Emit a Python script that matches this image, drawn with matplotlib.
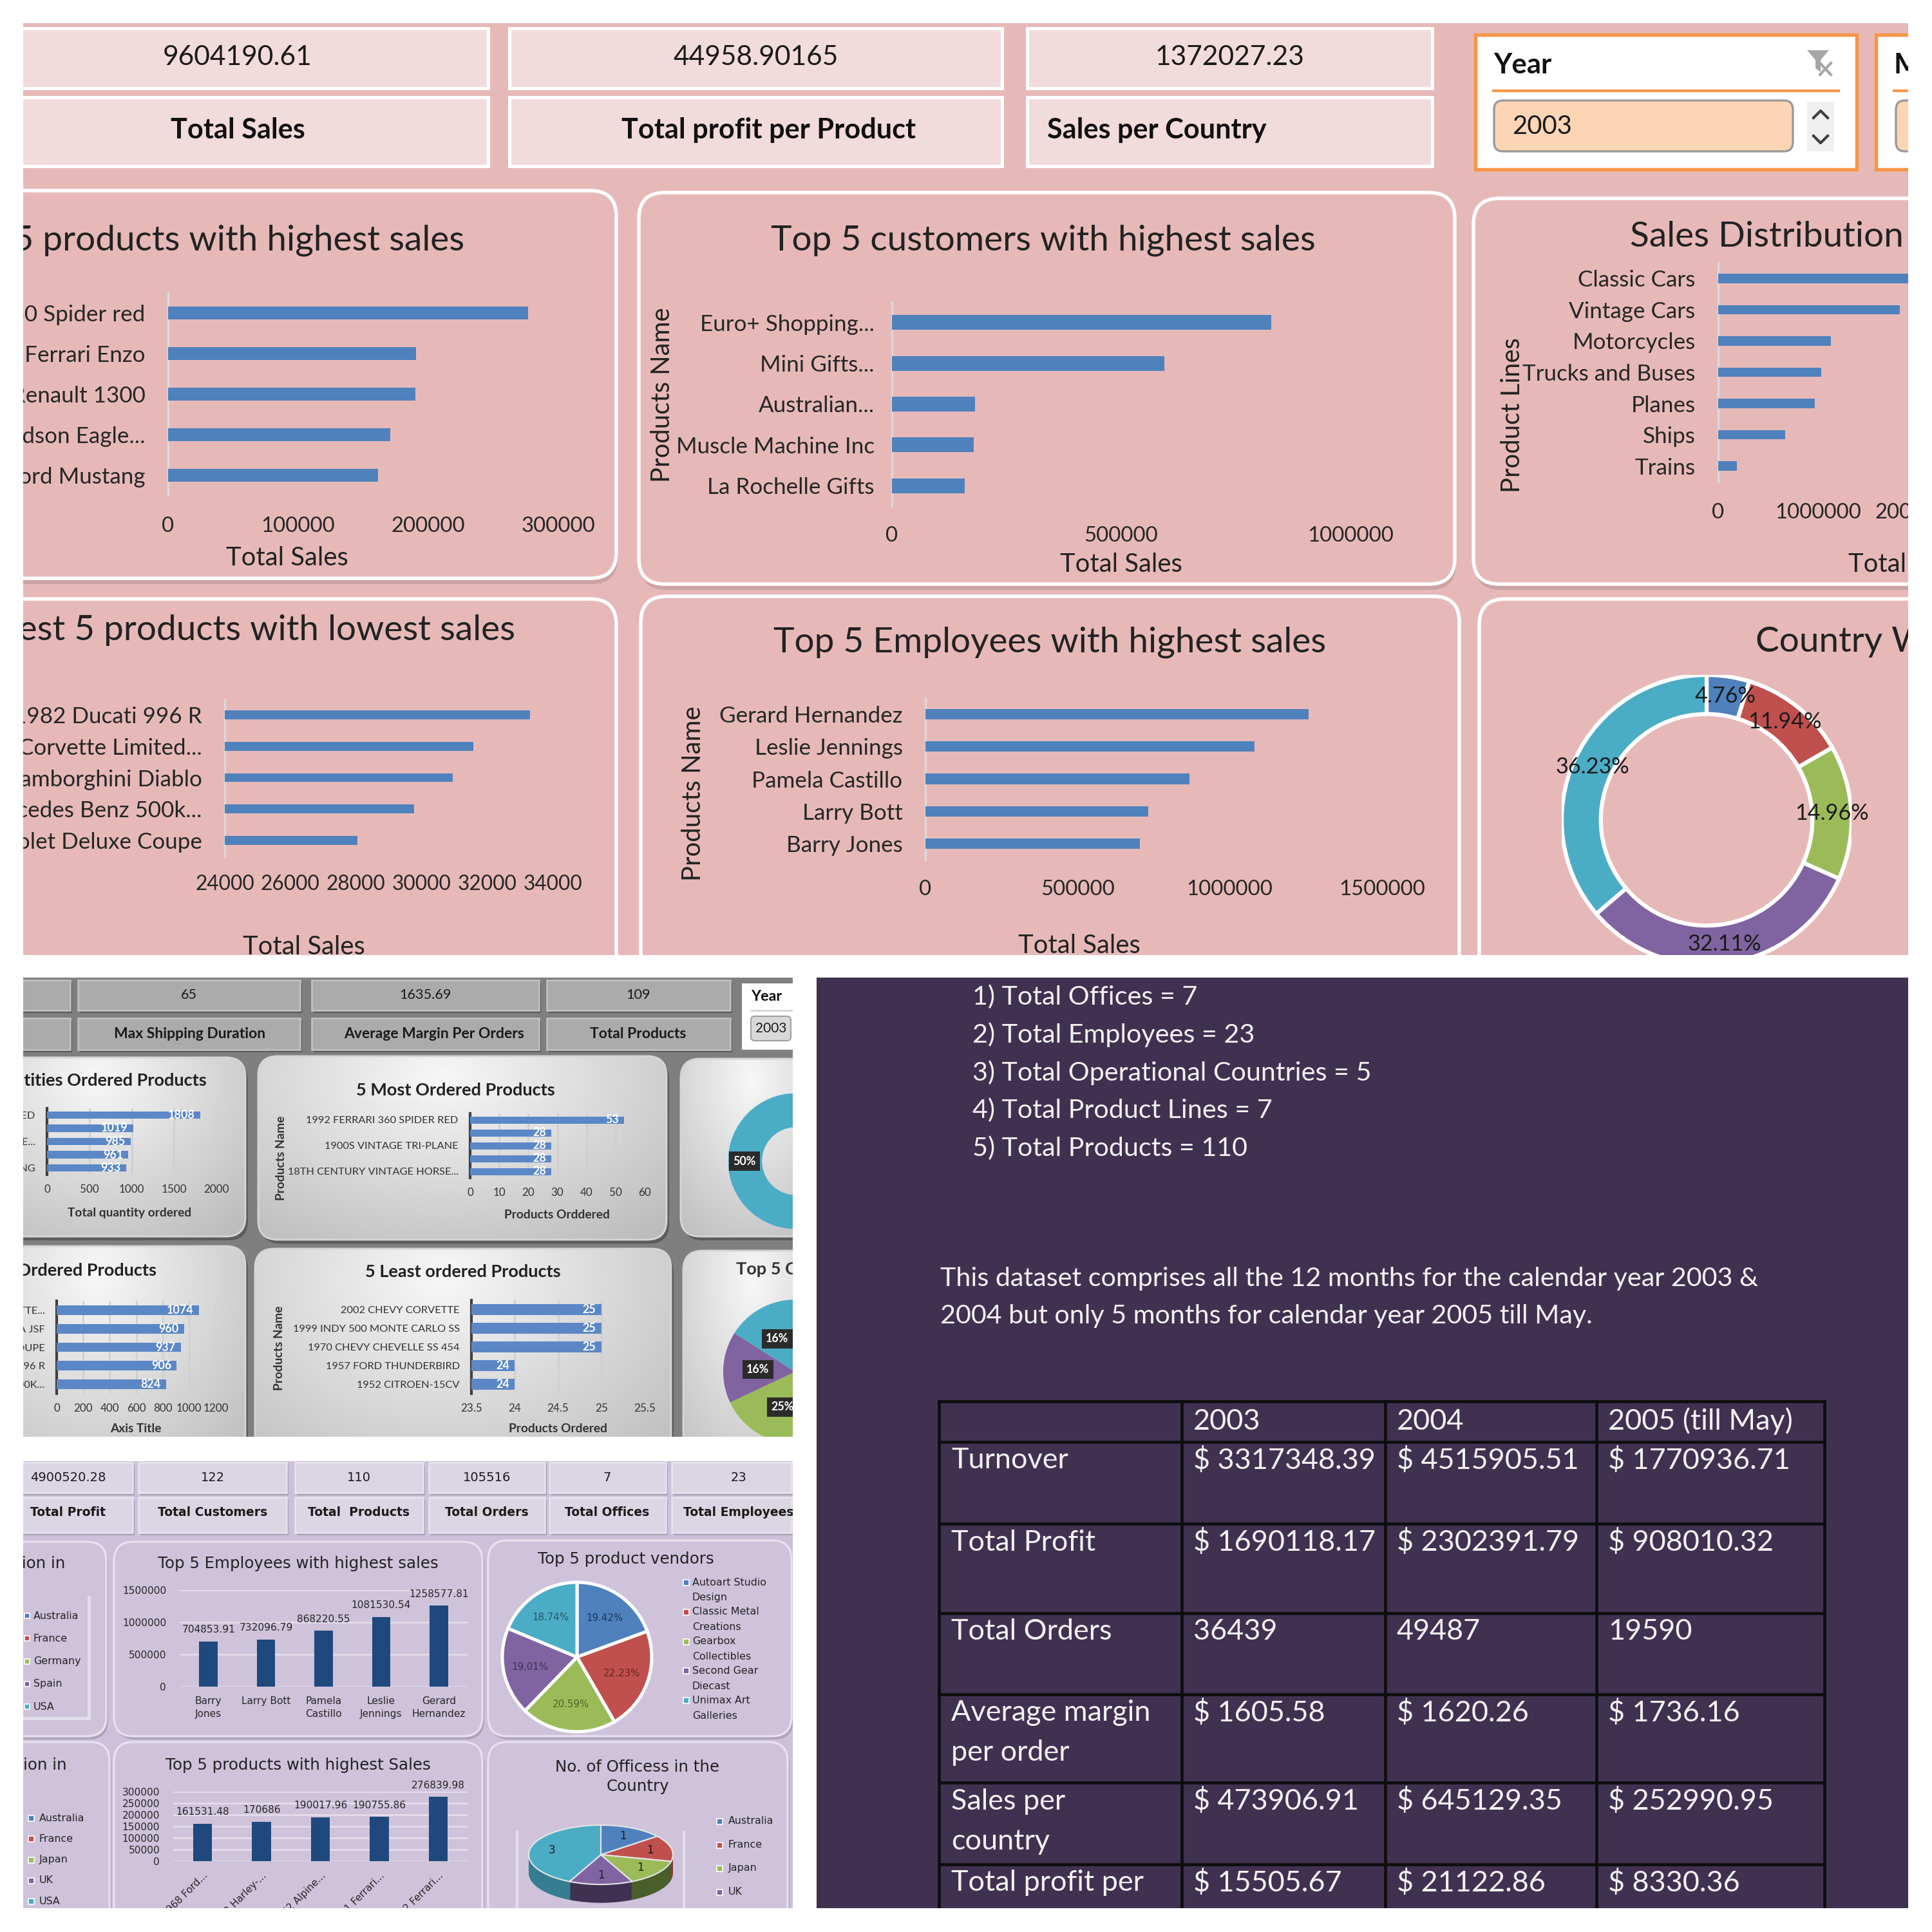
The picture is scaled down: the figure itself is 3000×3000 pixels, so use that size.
import matplotlib
matplotlib.use("Agg")
import matplotlib.pyplot as plt
import numpy as np
from matplotlib.patches import FancyBboxPatch, Polygon, Rectangle
from matplotlib.ticker import FuncFormatter

plt.rcParams["font.family"] = ["Lato", "DejaVu Sans"]

# ---------------- pink dashboard
kpi_values = ["9604190.61", "44958.90165", "1372027.23"]
kpi_labels = ["Total Sales", "Total profit per Product", "Sales per Country"]

top_products = ["1992 Ferrari 360 Spider red", "2001 Ferrari Enzo", "1952 Alpine Renault 1300",
                "2003 Harley-Davidson Eagle...", "1968 Ford Mustang"]
top_products_sales = [276839.98, 190755.86, 190017.96, 170686.00, 161531.48]

top_customers = ["Euro+ Shopping...", "Mini Gifts...", "Australian...", "Muscle Machine Inc", "La Rochelle Gifts"]
top_customers_sales = [827000, 594000, 181000, 178000, 159000]

product_lines = ["Classic Cars", "Vintage Cars", "Motorcycles", "Trucks and Buses", "Planes", "Ships", "Trains"]
product_line_sales = [3920000, 1820000, 1130000, 1030000, 970000, 670000, 190000]

low_products = ["1982 Ducati 996 R", "1958 Chevy Corvette Limited...", "1982 Lamborghini Diablo",
                "1936 Mercedes Benz 500k...", "1939 Chevrolet Deluxe Coupe"]
low_products_sales = [33310, 31580, 30960, 29780, 28050]

top_employees = ["Gerard Hernandez", "Leslie Jennings", "Pamela Castillo", "Larry Bott", "Barry Jones"]
top_employees_sales = [1258577.81, 1081530.54, 868220.55, 732096.79, 704853.91]

country_share = [4.76, 11.94, 14.96, 32.11, 36.23]

# ---------------- grey dashboard
grey_kpi_values = ["", "65", "1635.69", "109"]
grey_kpi_labels = ["", "Max Shipping Duration", "Average Margin Per Orders", "Total Products"]
qty_top_labels = ["1992 FERRARI 360 SPIDER RED", "", "2003 HARLEY-DAVIDSON EAGLE...", "", "1968 FORD MUSTANG"]
qty_top = [1808, 1019, 985, 961, 933]
most_ordered_labels = ["1992 FERRARI 360 SPIDER RED", "", "1900S VINTAGE TRI-PLANE", "",
                       "18TH CENTURY VINTAGE HORSE..."]
most_ordered = [53, 28, 28, 28, 28]
qty_low_labels = ["1958 CHEVY CORVETTE...", "BOEING X-32A JSF", "1939 CHEVROLET DELUXE COUPE",
                  "1982 DUCATI 996 R", "1936 MERCEDES BENZ 500K..."]
qty_low = [1074, 960, 937, 906, 824]
least_ordered_labels = ["2002 CHEVY CORVETTE", "1999 INDY 500 MONTE CARLO SS", "1970 CHEVY CHEVELLE SS 454",
                        "1957 FORD THUNDERBIRD", "1952 CITROEN-15CV"]
least_ordered = [25, 25, 25, 24, 24]
grey_donut = [50, 50]
grey_pie = [23, 20, 25, 16, 16]

# ---------------- purple dashboard
purple_kpi_values = ["4900520.28", "122", "110", "105516", "7", "23"]
purple_kpi_labels = ["Total Profit", "Total Customers", "Total  Products", "Total Orders",
                     "Total Offices", "Total Employees"]
legend_countries_a = ["Australia", "France", "Germany", "Spain", "USA"]
legend_countries_b = ["Australia", "France", "Japan", "UK", "USA"]
emp_names = ["Barry\nJones", "Larry Bott", "Pamela\nCastillo", "Leslie\nJennings", "Gerard\nHernandez"]
emp_sales = [704853.91, 732096.79, 868220.55, 1081530.54, 1258577.81]
vendors = ["Autoart Studio\nDesign", "Classic Metal\nCreations", "Gearbox\nCollectibles",
           "Second Gear\nDiecast", "Unimax Art\nGalleries"]
vendor_share = [19.42, 22.23, 20.59, 19.01, 18.74]
prod_names = ["1968 Ford...", "2003 Harley-...", "1952 Alpine...", "2001 Ferrari...", "1992 Ferrari..."]
prod_sales = [161531.48, 170686, 190017.96, 190755.86, 276839.98]
office_countries = ["Australia", "France", "Japan", "UK", "USA"]
office_counts = [1, 1, 1, 1, 3]

# ---------------- summary panel
facts = ["1) Total Offices = 7", "2) Total Employees = 23", "3) Total Operational Countries = 5",
         "4) Total Product Lines = 7", "5) Total Products = 110"]
note = ["This dataset comprises all the 12 months for the calendar year 2003 &",
        "2004 but only 5 months for calendar year 2005 till May."]
table_years = ["2003", "2004", "2005 (till May)"]
table_rows = ["Turnover", "Total Profit", "Total Orders", "Average margin\nper order", "Sales per\ncountry",
              "Total profit per\nproduct"]
vals_2003 = ["$ 3317348.39", "$ 1690118.17", "36439", "$ 1605.58", "$ 473906.91", "$ 15505.67"]
vals_2004 = ["$ 4515905.51", "$ 2302391.79", "49487", "$ 1620.26", "$ 645129.35", "$ 21122.86"]
vals_2005 = ["$ 1770936.71", "$ 908010.32", "19590", "$ 1736.16", "$ 252990.95", "$ 8330.36"]

W = H = 3000
BLUE, RED, GREEN, PURPLE, CYAN = "#4F81BD", "#C0504D", "#9BBB59", "#8064A2", "#4BACC6"
ORANGE = "#F79646"
SLICES = [BLUE, RED, GREEN, PURPLE, CYAN]
SLICES_DARK = ["#2C4D75", "#8C3836", "#4A5E2A", "#3F3151", "#357D91"]
PINK_BG, PINK_BOX = "#E6B9B8", "#F2DCDB"
GREY_BG = "#7F7F7F"
PURP_BG, PURP_CARD, PURP_BOX = "#CCC0DA", "#CEC3DB", "#DCD6E4"
DARK_BG = "#403151"
VERD = "DejaVu Sans"

fig = plt.figure(figsize=(10, 10), dpi=300)
cv = None


def box(x0, y0, x1, y1):
    return [x0 / W, 1 - y1 / H, (x1 - x0) / W, (y1 - y0) / H]


def panel(x0, y0, x1, y1, color):
    # one screenshot of the collage; everything drawn in it is clipped to it
    ax = fig.add_axes(box(x0, y0, x1, y1), zorder=0)
    ax.set_xlim(x0, x1)
    ax.set_ylim(y1, y0)
    ax.axis("off")
    ax.add_patch(Rectangle((x0, y0), x1 - x0, y1 - y0, fc=color, ec="none", zorder=0.5))
    return ax


def num(v, pos=None):
    return f"{v:.2f}".rstrip("0").rstrip(".")


def rect(x0, y0, x1, y1, z=1, **kw):
    cv.add_patch(Rectangle((x0, y0), x1 - x0, y1 - y0, zorder=z, **kw))


def rbox(x0, y0, x1, y1, r, z=1, **kw):
    p = FancyBboxPatch((x0, y0), x1 - x0, y1 - y0, boxstyle=f"round,pad=0,rounding_size={r}", zorder=z, **kw)
    cv.add_patch(p)
    return p


def txt(x, y, s, size, ha="center", va="center", **kw):
    kw.setdefault("color", "#222222")
    cv.text(x, y, s, fontsize=size, ha=ha, va=va, zorder=5, clip_on=True, **kw)


def hbar_chart(rect_px, labels, values, xlim, xticks, color, height, size, xsize, xpad, ypad,
               spine="#D9D9D9", grid=None, tcolor="#262626", lw=0.8):
    ax = fig.add_axes(box(*rect_px), zorder=2)
    ax.patch.set_alpha(0)
    pos = np.arange(len(values))
    bars = ax.barh(pos, values, height=height, color=color, zorder=3)
    ax.set_xlim(*xlim)
    ax.set_ylim(len(values) - 0.5, -0.5)
    ax.set_yticks(pos, labels)
    ax.set_xticks(xticks)
    ax.xaxis.set_major_formatter(FuncFormatter(num))
    for side in ["top", "right", "bottom"]:
        ax.spines[side].set_visible(False)
    ax.spines["left"].set_color(spine)
    ax.spines["left"].set_linewidth(lw)
    ax.tick_params(length=0, labelcolor=tcolor)
    ax.tick_params(axis="x", pad=xpad, labelsize=xsize)
    ax.tick_params(axis="y", pad=ypad, labelsize=size)
    if grid:
        ax.grid(axis="x", color=grid, lw=0.6)
        ax.set_axisbelow(True)
    return ax, bars


def pie_axes(cx, cy, r, clip=None):
    # square axes of the pie, optionally cut where the screenshot ends
    x0, y0, x1, y1 = cx - r, cy - r, cx + r, cy + r
    if clip:
        x1, y1 = min(x1, clip[0]), min(y1, clip[1])
    ax = fig.add_axes(box(x0, y0, x1, y1), zorder=2)
    lims = ((-1, (x1 - cx) / r), ((cy - y1) / r, 1))
    return ax, lims


def clip_pie(parts):
    for group in parts:
        for a in group:
            a.set_clip_on(True)


# ======================= PINK DASHBOARD =======================
cv = panel(36, 36, 2963, 1483, PINK_BG)

pink_boxes = [(-20, 758), (791, 1556), (1595, 2224)]
pink_label_x = [(369, "center"), (1194, "center"), (1626, "left")]
for (x0, x1), val, lab, (lx, lha) in zip(pink_boxes, kpi_values, kpi_labels, pink_label_x):
    rect(x0, 44, x1, 137, fc=PINK_BOX, ec="white", lw=1.2)
    rect(x0, 151, x1, 258, fc=PINK_BOX, ec="white", lw=1.2)
    txt((x0 + x1) / 2, 89, val, 10.2, color="#1a1a1a")
    txt(lx, 202, lab, 10.4, ha=lha, weight="bold", color="#111111")

# year slicer
rect(2291, 54, 2883, 263, fc="white", ec=ORANGE, lw=1.3)
txt(2319, 101, "Year", 10.5, ha="left", weight="bold", color="#111111")
cv.plot([2319, 2855], [141, 141], color=ORANGE, lw=1.0, zorder=3)
rbox(2320, 156, 2784, 235, 14, fc="#FCD5B4", ec="#9A9A9A", lw=0.8)
txt(2348, 197, "2003", 9.6, ha="left", color="#1a1a1a")
rect(2806, 158, 2848, 235, fc="#F0F0F0", ec="none")
cv.plot([2816, 2827, 2838], [183, 172, 183], color="#404040", lw=1.0, zorder=3)
cv.plot([2816, 2827, 2838], [211, 222, 211], color="#404040", lw=1.0, zorder=3)
cv.add_patch(Polygon([(2806, 78), (2840, 78), (2827, 93), (2827, 112), (2819, 106), (2819, 93)],
                     fc="#A6A6A6", ec="none", zorder=3))
cv.plot([2826, 2843], [98, 116], color="#A6A6A6", lw=1.0, zorder=3)
cv.plot([2843, 2826], [98, 116], color="#A6A6A6", lw=1.0, zorder=3)
rect(2913, 54, 3100, 263, fc="white", ec=ORANGE, lw=1.3)
txt(2941, 101, "Month", 10.5, ha="left", weight="bold", color="#111111")
cv.plot([2941, 3000], [141, 141], color=ORANGE, lw=1.0, zorder=3)
rbox(2944, 156, 3100, 235, 14, fc="#FCD5B4", ec="#9A9A9A", lw=0.8)

# cards
for x0, y0, x1, y1 in [(-40, 296, 957, 898), (992, 299, 2259, 907), (2288, 308, 3100, 907),
                       (-40, 930, 957, 1600), (995, 926, 2266, 1600), (2297, 930, 3100, 1600)]:
    rbox(x0 + 2, y0 + 9, x1 + 2, y1 + 9, 40, fc="#B69190", ec="none", alpha=0.55)
    rbox(x0, y0, x1, y1, 40, z=1.1, fc=PINK_BG, ec="white", lw=1.3)

txt(721, 373, "Top 5 products with highest sales", 13.2, ha="right")
txt(1620, 373, "Top 5 customers with highest sales", 13.2)
txt(2531, 367, "Sales Distribution by Product Line", 13.2, ha="left")
txt(800, 979, "Lowest 5 products with lowest sales", 13.2, ha="right")
txt(1630, 997, "Top 5 Employees with highest sales", 13.2)
txt(2726, 997, "Country Wise Sales", 13.2, ha="left")

hbar_chart((261, 455, 867, 769), top_products, top_products_sales, (0, 300000),
           [0, 100000, 200000, 300000], BLUE, 0.32, 8.4, 7.9, 8.0, 8.5)
txt(446, 867, "Total Sales", 9.6)

hbar_chart((1385, 469, 2097, 786), top_customers, top_customers_sales, (0, 1000000),
           [0, 500000, 1000000], BLUE, 0.36, 8.4, 7.9, 7.5, 6.5)
txt(1029, 613, "Products Name", 9.6, rotation=90)
txt(1741, 877, "Total Sales", 9.6)

hbar_chart((2668, 408, 3288, 748), product_lines, product_line_sales, (0, 4000000),
           [0, 1000000, 2000000, 3000000, 4000000], BLUE, 0.3, 8.4, 7.9, 8.0, 8.5)
txt(2349, 645, "Product Lines", 9.6, rotation=90)
txt(2870, 877, "Total Sales", 9.6, ha="left")

hbar_chart((349, 1086, 858, 1329), low_products, low_products_sales, (24000, 34000),
           [24000, 26000, 28000, 30000, 32000, 34000], BLUE, 0.28, 8.4, 7.6, 7.0, 8.5)
txt(472, 1471, "Total Sales", 9.6)

hbar_chart((1437, 1084, 2146, 1335), top_employees, top_employees_sales, (0, 1500000),
           [0, 500000, 1000000, 1500000], BLUE, 0.32, 8.4, 7.9, 7.5, 8.5)
txt(1077, 1232, "Products Name", 9.6, rotation=90)
txt(1676, 1469, "Total Sales", 9.6)

ax, (xl, yl) = pie_axes(2650, 1273, 225, clip=(2963, 1483))
wedges, _, _ = ax.pie(country_share, colors=SLICES, startangle=90, counterclock=False,
                      wedgeprops=dict(width=0.27, edgecolor="white", linewidth=1.5),
                      autopct="%.2f%%", pctdistance=0.865,
                      textprops=dict(fontsize=8.2, color="#1a1a1a"))
clip_pie([wedges])
ax.set_xlim(*xl)
ax.set_ylim(*yl)

# ======================= GREY DASHBOARD =======================
cv = panel(36, 1518, 1231, 2231, GREY_BG)

grey_boxes = [(-20, 109), (121, 466), (484, 837), (849, 1134)]
grey_val_x = [50, 293, 660, 991]
grey_lab_x = [50, 295, 674, 991]
for (x0, x1), v, lab, vx, lx in zip(grey_boxes, grey_kpi_values, grey_kpi_labels, grey_val_x, grey_lab_x):
    for y0, y1 in [(1522, 1569), (1581, 1630)]:
        rect(x0 + 3, y0 + 4, x1 + 3, y1 + 4, fc="#5A5A5A", ec="none")
        rect(x0, y0, x1, y1, z=1.1, fc="#ABABAB", ec="#C4C4C4", lw=0.6)
    txt(vx, 1545, v, 5.2, color="#1a1a1a")
    txt(lx, 1605, lab, 5.5, weight="bold", color="#1a1a1a")

rect(1152, 1527, 1300, 1630, fc="white", ec="none")
txt(1166, 1548, "Year", 5.6, ha="left", weight="bold", color="#111111")
cv.plot([1166, 1300], [1569, 1569], color="#D0D0D0", lw=0.6, zorder=3)
rbox(1166, 1578, 1228, 1616, 6, z=1.2, fc="#D9D9D9", ec="#A0A0A0", lw=0.5)
txt(1197, 1597, "2003", 5.0, color="#1a1a1a")

gy, gx = np.mgrid[0:1:80j, 0:1:80j]
GRAD_HI = np.array([0.97, 0.97, 0.97])
GRAD_LO = np.array([0.74, 0.74, 0.74])


def grad_card(x0, y0, x1, y1, r=30):
    rbox(x0 + 4, y0 + 6, x1 + 4, y1 + 6, r, fc="#5C5C5C", ec="none")
    p = rbox(x0, y0, x1, y1, r, z=1.3, fc="none", ec="#D5D5D5", lw=0.7)
    d = np.clip(np.hypot((gx - 0.45) / 0.8, (gy - 0.12) / 1.1), 0, 1)
    img = GRAD_HI + (GRAD_LO - GRAD_HI) * d[..., None]
    im = cv.imshow(img, extent=(x0, x1, y1, y0), aspect="auto", interpolation="bilinear", zorder=1.2)
    im.set_clip_path(p)


for c in [(-40, 1642, 381, 1920), (401, 1640, 1035, 1925), (1057, 1644, 1300, 1920),
          (-40, 1935, 381, 2300), (396, 1939, 1042, 2300), (1061, 1942, 1300, 2300)]:
    grad_card(*c)
cv.set_xlim(36, 1231)
cv.set_ylim(2231, 1518)

txt(321, 1678, "Top 5 Quantities Ordered Products", 6.5, ha="right", weight="bold")
txt(707, 1693, "5 Most Ordered Products", 6.5, weight="bold")
txt(243, 1972, "5 Least Quantities Ordered Products", 6.5, ha="right", weight="bold")
txt(719, 1975, "5 Least ordered Products", 6.5, weight="bold")
txt(1143, 1971, "Top 5 Customers", 6.5, ha="left", weight="bold", color="#333333")

GBAR = "#5B87C6"
for rect_px, labels, values, xlim, xticks, h in [
        ((73, 1721, 336, 1824), qty_top_labels, qty_top, (0, 2000), [0, 500, 1000, 1500, 2000], 0.55),
        ((730, 1729, 1001, 1829), most_ordered_labels, most_ordered, (0, 60), [0, 10, 20, 30, 40, 50, 60], 0.55),
        ((88, 2020, 335, 2164), qty_low_labels, qty_low, (0, 1200), [0, 200, 400, 600, 800, 1000, 1200], 0.52),
        ((732, 2019, 1001, 2164), least_ordered_labels, least_ordered, (23.5, 25.5),
         [23.5, 24, 24.5, 25, 25.5], 0.56)]:
    ax, bars = hbar_chart(rect_px, labels, values, xlim, xticks, GBAR, h, 3.95, 4.1, 3.6, 4.4,
                          spine="#404040", grid="#CFCFCF", tcolor="#333333", lw=1.0)
    for t in ax.bar_label(bars, labels=[num(v) for v in values], padding=-2, fontsize=4.3,
                          color="white", weight="bold"):
        t.set_ha("right")

txt(201, 1883, "Total quantity ordered", 4.6, weight="bold", color="#333333")
txt(437, 1798, "Products Name", 4.6, weight="bold", rotation=90, color="#333333")
txt(865, 1886, "Products Orddered", 4.6, weight="bold", color="#333333")
txt(211, 2219, "Axis Title", 4.6, weight="bold", color="#333333")
txt(434, 2093, "Products Name", 4.6, weight="bold", rotation=90, color="#333333")
txt(867, 2219, "Products Ordered", 4.6, weight="bold", color="#333333")

tag = dict(boxstyle="square,pad=0.35", fc="#2B2B2B", ec="none")
ax, (xl, yl) = pie_axes(1236, 1803, 105.5, clip=(1231, 2231))
clip_pie(ax.pie(grey_donut, colors=[CYAN, ORANGE], startangle=90, counterclock=True,
                wedgeprops=dict(width=0.5, edgecolor="none"), autopct="%d%%", pctdistance=0.76,
                textprops=dict(fontsize=4.3, color="white", weight="bold", bbox=tag)))
ax.set_xlim(*xl)
ax.set_ylim(*yl)

ax, (xl, yl) = pie_axes(1235, 2130, 112, clip=(1231, 2231))
clip_pie(ax.pie(grey_pie, colors=SLICES, startangle=90, counterclock=False,
                wedgeprops=dict(edgecolor="none"), autopct="%d%%", pctdistance=0.52,
                textprops=dict(fontsize=4.3, color="white", weight="bold", bbox=tag)))
ax.set_xlim(*xl)
ax.set_ylim(*yl)

# ======================= PURPLE DASHBOARD =======================
cv = panel(36, 2269, 1231, 2963, PURP_BG)

purple_boxes = [(-20, 206), (215, 445), (458, 657), (666, 846), (853, 1034), (1043, 1229)]
purple_text_x = [106, 330, 557, 756, 943, 1147]
for (x0, x1), v, lab, tx in zip(purple_boxes, purple_kpi_values, purple_kpi_labels, purple_text_x):
    for y0, y1 in [(2271, 2318), (2325, 2380)]:
        rect(x0 + 3, y0 + 4, x1 + 3, y1 + 4, fc="#A79FB2", ec="none")
        rect(x0, y0, x1, y1, z=1.1, fc=PURP_BOX, ec="#E8E4EE", lw=0.6)
    txt(tx, 2294, v, 4.7, family=VERD, color="#1a1a1a")
    txt(tx, 2349, lab, 4.5, family=VERD, weight="bold", color="#1a1a1a")

for x0, y0, x1, y1 in [(-40, 2394, 165, 2696), (177, 2394, 749, 2696), (758, 2392, 1229, 2696),
                       (-40, 2705, 170, 3050), (177, 2705, 749, 3050), (758, 2705, 1223, 3050)]:
    rbox(x0 + 3, y0 + 5, x1 + 3, y1 + 5, 30, fc="#ADA2BC", ec="none")
    rbox(x0, y0, x1, y1, 30, z=1.1, fc=PURP_CARD, ec="#E6E1EE", lw=0.8)

txt(101, 2428, "Sales Distribution in", 5.9, ha="right", family=VERD)
txt(463, 2428, "Top 5 Employees with highest sales", 5.9, family=VERD)
txt(972, 2421, "Top 5 product vendors", 5.9, family=VERD)
txt(104, 2741, "Office Distribution in", 5.9, ha="right", family=VERD)
txt(463, 2741, "Top 5 products with highest Sales", 5.9, family=VERD)
txt(990, 2759, "No. of Officess in the\nCountry", 5.9, family=VERD, linespacing=1.3)

# legends of the cropped charts
cv.plot([138, 138], [2480, 2668], color="#E2DDEA", lw=1.2, zorder=2)
cv.plot([36, 138], [2668, 2668], color="#E2DDEA", lw=1.2, zorder=2)
cv.plot([803, 803], [2845, 2963], color="#E2DDEA", lw=1.0, zorder=2)
cv.plot([1062, 1062], [2845, 2963], color="#E2DDEA", lw=1.0, zorder=2)
for i, (name, col) in enumerate(zip(legend_countries_a, SLICES)):
    y = 2509 + i * 35.3
    rect(38, y - 4, 46, y + 4, z=3, fc=col, ec="white", lw=0.4)
    txt(52, y, name, 3.8, ha="left", family=VERD)
for i, (name, col) in enumerate(zip(legend_countries_b, SLICES)):
    y = 2823 + i * 32.3
    rect(44, y - 4, 53, y + 5, z=3, fc=col, ec="white", lw=0.4)
    txt(61, y, name, 3.8, ha="left", family=VERD)
for i, (name, col) in enumerate(zip(office_countries, SLICES)):
    y = 2828 + i * 36.5
    rect(1113, y - 4, 1122, y + 5, z=3, fc=col, ec="white", lw=0.4)
    txt(1131, y, name, 3.8, ha="left", family=VERD)
for i, (name, col) in enumerate(zip(vendors, SLICES)):
    y = 2457 + i * 45.8
    rect(1061, y - 4, 1070, y + 5, z=3, fc=col, ec="white", lw=0.4)
    for k, line in enumerate(name.split("\n")):
        txt(1075, y + k * 24, line, 3.8, ha="left", family=VERD)


def vbar_chart(rect_px, labels, values, ylim, yticks, size=3.7):
    ax = fig.add_axes(box(*rect_px), zorder=2)
    ax.patch.set_alpha(0)
    pos = np.arange(len(values))
    bars = ax.bar(pos, values, width=0.32, color="#1F497D", zorder=3)
    ax.set_xlim(-0.5, len(values) - 0.5)
    ax.set_ylim(*ylim)
    ax.set_yticks(yticks)
    ax.yaxis.set_major_formatter(FuncFormatter(num))
    ax.set_xticks(pos, labels)
    for s in ax.spines.values():
        s.set_visible(False)
    ax.grid(axis="y", color="#E4DFEB", lw=0.6)
    ax.set_axisbelow(True)
    ax.tick_params(length=0, labelsize=size, labelcolor="#262626")
    ax.tick_params(axis="y", pad=5)
    ax.tick_params(axis="x", pad=3.5)
    plt.setp(ax.get_xticklabels() + ax.get_yticklabels(), family=VERD)
    ax.bar_label(bars, labels=[num(v) for v in values], padding=2.5, fontsize=size, family=VERD,
                 color="#262626")
    return ax


ax = vbar_chart((279, 2469, 726, 2619), emp_names, emp_sales, (0, 1500000),
                [0, 500000, 1000000, 1500000])
plt.setp(ax.get_xticklabels(), linespacing=1.45)

ax = vbar_chart((269, 2782, 726, 2890), prod_names, prod_sales, (0, 300000),
                [0, 50000, 100000, 150000, 200000, 250000, 300000])
plt.setp(ax.get_xticklabels(), rotation=45, ha="right", rotation_mode="anchor")

ax, (xl, yl) = pie_axes(896, 2573, 116)
_, _, pct = ax.pie(vendor_share, colors=SLICES, startangle=90, counterclock=False,
                   wedgeprops=dict(edgecolor="white", linewidth=1.2), autopct="%.2f%%",
                   pctdistance=0.64, textprops=dict(fontsize=3.6, family=VERD))
for t, c in zip(pct, ["#17375E", "#632523", "#4F6228", "#3F3151", "#215967"]):
    t.set_color(c)
ax.set_xlim(*xl)
ax.set_ylim(*yl)

# 3-D look: darker copies stacked under the top face
ax = fig.add_axes(box(821, 2834, 1045, 2963), zorder=2)
for d in np.linspace(0.62, 0.04, 16):
    ax.pie(office_counts, colors=SLICES_DARK, startangle=90, counterclock=False, center=(0, -d),
           wedgeprops=dict(linewidth=0))
ax.pie(office_counts, colors=SLICES, startangle=90, counterclock=False,
       autopct=lambda p: f"{p * sum(office_counts) / 100:.0f}", pctdistance=0.7,
       wedgeprops=dict(edgecolor="#E6E6E6", linewidth=0.5),
       textprops=dict(fontsize=4.0, family=VERD, color="#1a1a1a"))
ax.set_aspect("auto")
ax.set_xlim(-1, 1)
ax.set_ylim(-1.80, 1)

# ======================= SUMMARY PANEL =======================
cv = panel(1268, 1518, 2963, 2963, DARK_BG)
for i, line in enumerate(facts):
    txt(1510, 1548 + i * 58.8, line, 9.9, ha="left", color="#F2F2F2")
for i, line in enumerate(note):
    txt(1460, 1985 + i * 58.5, line, 9.9, ha="left", color="#F2F2F2")

col_x = [1458, 1835, 2151, 2479, 2833]
row_y = [2176, 2239, 2366, 2505, 2631, 2768, 2895, 3000]
for x in col_x:
    cv.plot([x, x], [row_y[0], row_y[-1]], color="#0D0D0D", lw=1.1, zorder=3)
for y in row_y[:-1]:
    cv.plot([col_x[0], col_x[-1]], [y, y], color="#0D0D0D", lw=1.1, zorder=3)
for x, year in zip(col_x[1:], table_years):
    txt(x + 18, 2207, year, 10.8, ha="left", color="#F2F2F2")
for r, (name, a, b, c) in enumerate(zip(table_rows, vals_2003, vals_2004, vals_2005)):
    top = row_y[r + 1]
    for k, line in enumerate(name.split("\n")):
        txt(col_x[0] + 19, top + 29 + k * 62, line, 10.8, ha="left", color="#F2F2F2")
    for x, v in zip(col_x[1:4], [a, b, c]):
        txt(x + 18, top + 29, v, 10.8, ha="left", color="#F2F2F2")

# ======================= white gaps between the screenshots =======================
mask = fig.add_axes([0, 0, 1, 1], zorder=10)
mask.set_xlim(0, W)
mask.set_ylim(H, 0)
mask.axis("off")
for x0, y0, x1, y1 in [(0, 0, W, 36), (0, 2963, W, H), (0, 0, 36, H), (2963, 0, W, H),
                       (0, 1483, W, 1518), (1231, 1518, 1268, H), (0, 2231, 1231, 2269)]:
    mask.add_patch(Rectangle((x0, y0), x1 - x0, y1 - y0, fc="white", ec="none"))

fig.savefig("out.png", dpi=300, facecolor="white")
